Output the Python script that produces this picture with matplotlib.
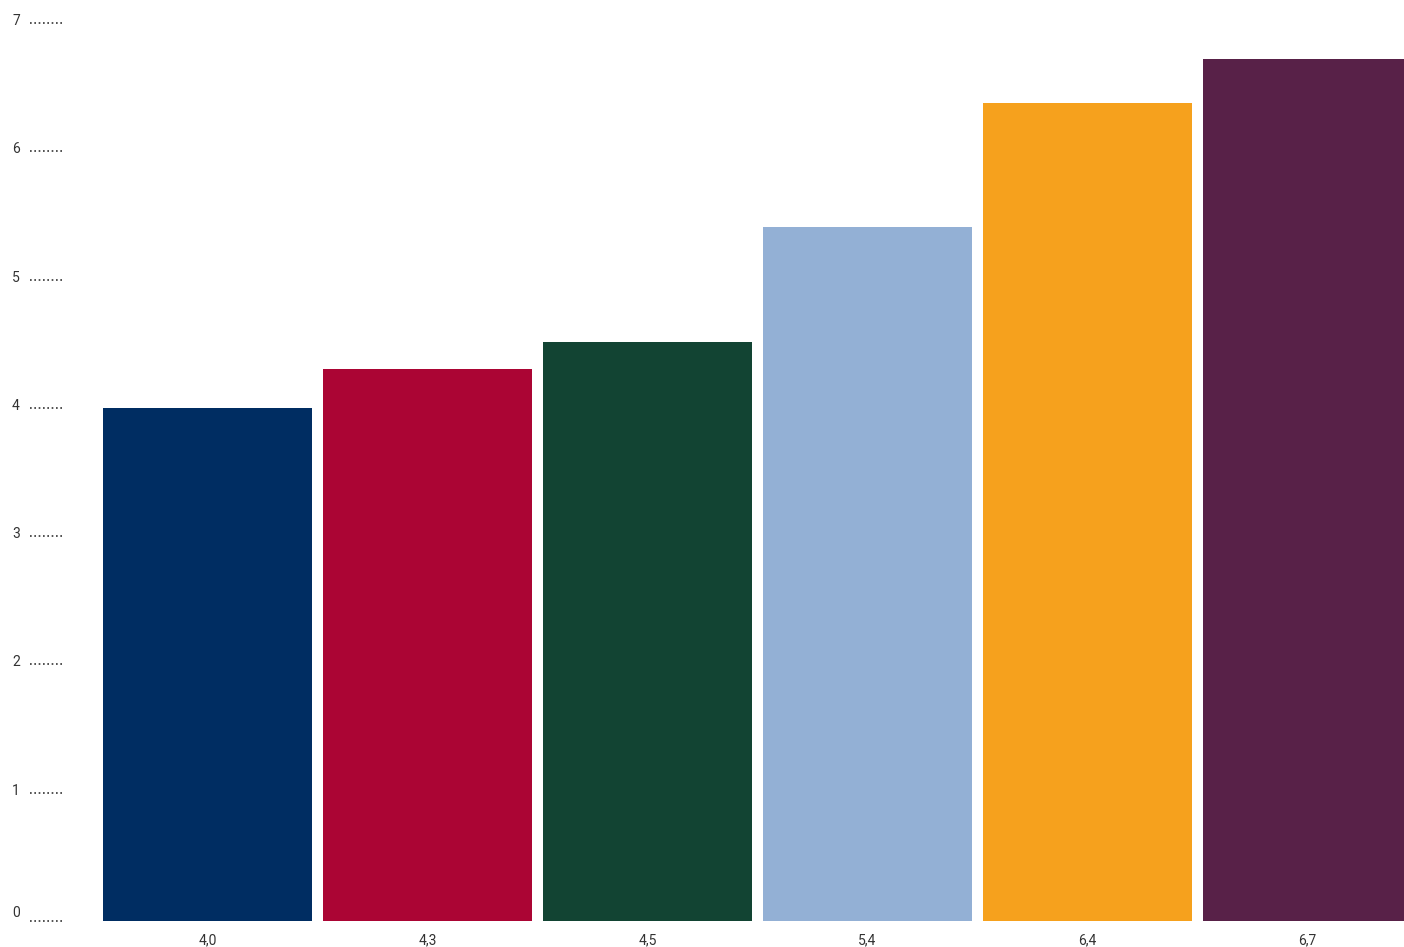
import matplotlib
matplotlib.use("Agg")
import matplotlib.pyplot as plt
from matplotlib.transforms import blended_transform_factory

categories = ["4,0", "4,3", "4,5", "5,4", "6,4", "6,7"]
values = [4.0, 4.3, 4.51, 5.41, 6.38, 6.72]
colors = ["#002D62", "#AB0534", "#124433", "#93B0D5", "#F6A11D", "#582148"]
yticks = [0, 1, 2, 3, 4, 5, 6, 7]

W, H = 1404, 947
fig = plt.figure(figsize=(W / 100, H / 100), dpi=100)
left_px, right_px, top_px, bottom_px = 64, 1404, 23, 921
ax = fig.add_axes([left_px / W, 1 - bottom_px / H, (right_px - left_px) / W, (bottom_px - top_px) / H])

x = list(range(len(categories)))
ax.bar(x, values, width=0.95, color=colors)
pitch = 220.0
c0 = 207.5
ax.set_xlim((left_px - c0) / pitch, (right_px - c0) / pitch)
ax.set_ylim(0, 7)

for s in ax.spines.values():
    s.set_visible(False)
ax.set_xticks(x)
ax.set_xticklabels(categories, fontsize=10, color="#333333", fontfamily="Roboto")
ax.tick_params(axis="x", length=0, pad=9)
ax.set_yticks([])

trans = blended_transform_factory(ax.transAxes, ax.transData)
axw = right_px - left_px
ppu = (bottom_px - top_px) / 7.0
for t in yticks:
    ax.plot([-(34 / axw), -(0 / axw)], [t, t], transform=trans, clip_on=False,
            color="#333333", linestyle=(0, (1, 1.6)), linewidth=1.2)
    off = 8 if t == 0 else 2
    ax.text(-(44 / axw), t - off / ppu * -1 if False else t + (-2 if t else 4) / ppu,
            str(t), transform=trans, ha="right", va="baseline",
            fontsize=10, color="#333333", fontfamily="Roboto")

fig.savefig("out.png", dpi=100)
